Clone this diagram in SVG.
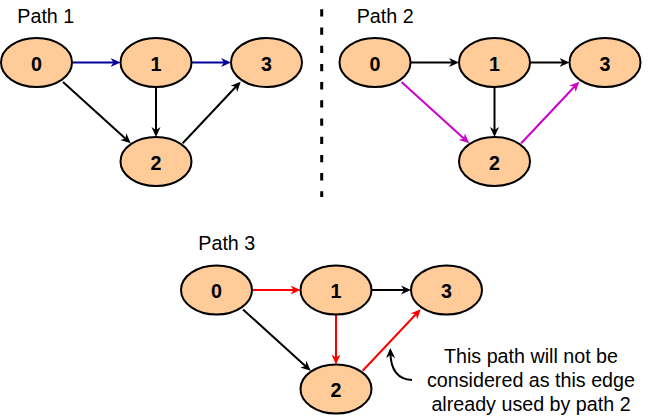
<svg xmlns="http://www.w3.org/2000/svg" width="652" height="416" viewBox="0 0 652 416">
<style>
.node ellipse{fill:#FFCC99;stroke:#000;stroke-width:2}
.node text{font-family:"Liberation Sans",Arial,sans-serif;font-weight:bold;font-size:19.7px;text-anchor:middle;fill:#000}
.lbl{font-family:"Liberation Sans",Arial,sans-serif;font-size:19.7px;fill:#000}
.e{fill:none;stroke-width:2}
.k{stroke:#000;marker-end:url(#ak)}
.b{stroke:#000099;marker-end:url(#ab)}
.m{stroke:#CC00CC;marker-end:url(#am)}
.r{stroke:#FF0000;marker-end:url(#ar)}
</style>
<defs>
<marker id="ak" viewBox="0 0 10 10" refX="5" refY="5" markerWidth="10" markerHeight="10" markerUnits="userSpaceOnUse" orient="auto"><path d="M0,0.5 L10,5 L0,9.5 L3,5 z" fill="#000"/></marker>
<marker id="ab" viewBox="0 0 10 10" refX="5" refY="5" markerWidth="10" markerHeight="10" markerUnits="userSpaceOnUse" orient="auto"><path d="M0,0.5 L10,5 L0,9.5 L3,5 z" fill="#000099"/></marker>
<marker id="am" viewBox="0 0 10 10" refX="5" refY="5" markerWidth="10" markerHeight="10" markerUnits="userSpaceOnUse" orient="auto"><path d="M0,0.5 L10,5 L0,9.5 L3,5 z" fill="#CC00CC"/></marker>
<marker id="ar" viewBox="0 0 10 10" refX="5" refY="5" markerWidth="10" markerHeight="10" markerUnits="userSpaceOnUse" orient="auto"><path d="M0,0.5 L10,5 L0,9.5 L3,5 z" fill="#FF0000"/></marker>
</defs>
<rect width="652" height="416" fill="#fff"/>
<text class="lbl" x="17.3" y="23.3">Path 1</text>
<text class="lbl" x="356.7" y="23.3">Path 2</text>
<text class="lbl" x="198.3" y="250">Path 3</text>
<line x1="321.7" y1="9.3" x2="321.7" y2="197" stroke="#000" stroke-width="3" stroke-dasharray="7.3 10.9"/>
<g id="connectors">
<!-- Path 1 -->
<path class="e b" d="M72,62.5 L115.5,62.5"/>
<path class="e b" d="M191.5,62.5 L226,62.5"/>
<path class="e k" d="M156,87 L156,132"/>
<path class="e k" d="M63,82 L127,139.9"/>
<path class="e k" d="M182.7,143.3 L237.3,85.3"/>
<!-- Path 2 -->
<path class="e k" d="M410.5,62.5 L454,62.5"/>
<path class="e k" d="M530,62.5 L564.5,62.5"/>
<path class="e k" d="M494.5,87 L494.5,132"/>
<path class="e m" d="M401.5,82 L465.5,139.9"/>
<path class="e m" d="M521.2,143.3 L575.8,85.3"/>
<!-- Path 3 -->
<path class="e r" d="M252,290 L295.5,290"/>
<path class="e k" d="M371.5,290 L406,290"/>
<path class="e r" d="M336,314.5 L336,359.5"/>
<path class="e k" d="M243,309.5 L307,367.4"/>
<path class="e r" d="M362.7,370.8 L417.3,312.8"/>
<!-- annotation arrow -->
<path class="e k" d="M412,380 Q391,379 390.4,353"/>
</g>
<g id="p1n0" class="node"><ellipse cx="36.5" cy="62.5" rx="35.5" ry="24.5"/><text x="36.5" y="70.5">0</text></g>
<g id="p1n1" class="node"><ellipse cx="156" cy="62.5" rx="35.5" ry="24.5"/><text x="156" y="70.5">1</text></g>
<g id="p1n3" class="node"><ellipse cx="266.5" cy="62.5" rx="35.5" ry="24.5"/><text x="266.5" y="70.5">3</text></g>
<g id="p1n2" class="node"><ellipse cx="156" cy="161.5" rx="35.5" ry="24.5"/><text x="156" y="169.5">2</text></g>
<g id="p2n0" class="node"><ellipse cx="375" cy="62.5" rx="35.5" ry="24.5"/><text x="375" y="70.5">0</text></g>
<g id="p2n1" class="node"><ellipse cx="494.5" cy="62.5" rx="35.5" ry="24.5"/><text x="494.5" y="70.5">1</text></g>
<g id="p2n3" class="node"><ellipse cx="605" cy="62.5" rx="35.5" ry="24.5"/><text x="605" y="70.5">3</text></g>
<g id="p2n2" class="node"><ellipse cx="494.5" cy="161.5" rx="35.5" ry="24.5"/><text x="494.5" y="169.5">2</text></g>
<g id="p3n0" class="node"><ellipse cx="216.5" cy="290" rx="35.5" ry="24.5"/><text x="216.5" y="298">0</text></g>
<g id="p3n1" class="node"><ellipse cx="336" cy="290" rx="35.5" ry="24.5"/><text x="336" y="298">1</text></g>
<g id="p3n3" class="node"><ellipse cx="446.5" cy="290" rx="35.5" ry="24.5"/><text x="446.5" y="298">3</text></g>
<g id="p3n2" class="node"><ellipse cx="336" cy="389" rx="35.5" ry="24.5"/><text x="336" y="397">2</text></g>
<g id="note">
<text class="lbl" text-anchor="middle" x="531" y="363">This path will not be</text>
<text class="lbl" text-anchor="middle" x="531" y="387">considered as this edge</text>
<text class="lbl" text-anchor="middle" x="531" y="411">already used by path 2</text>
</g>
</svg>
